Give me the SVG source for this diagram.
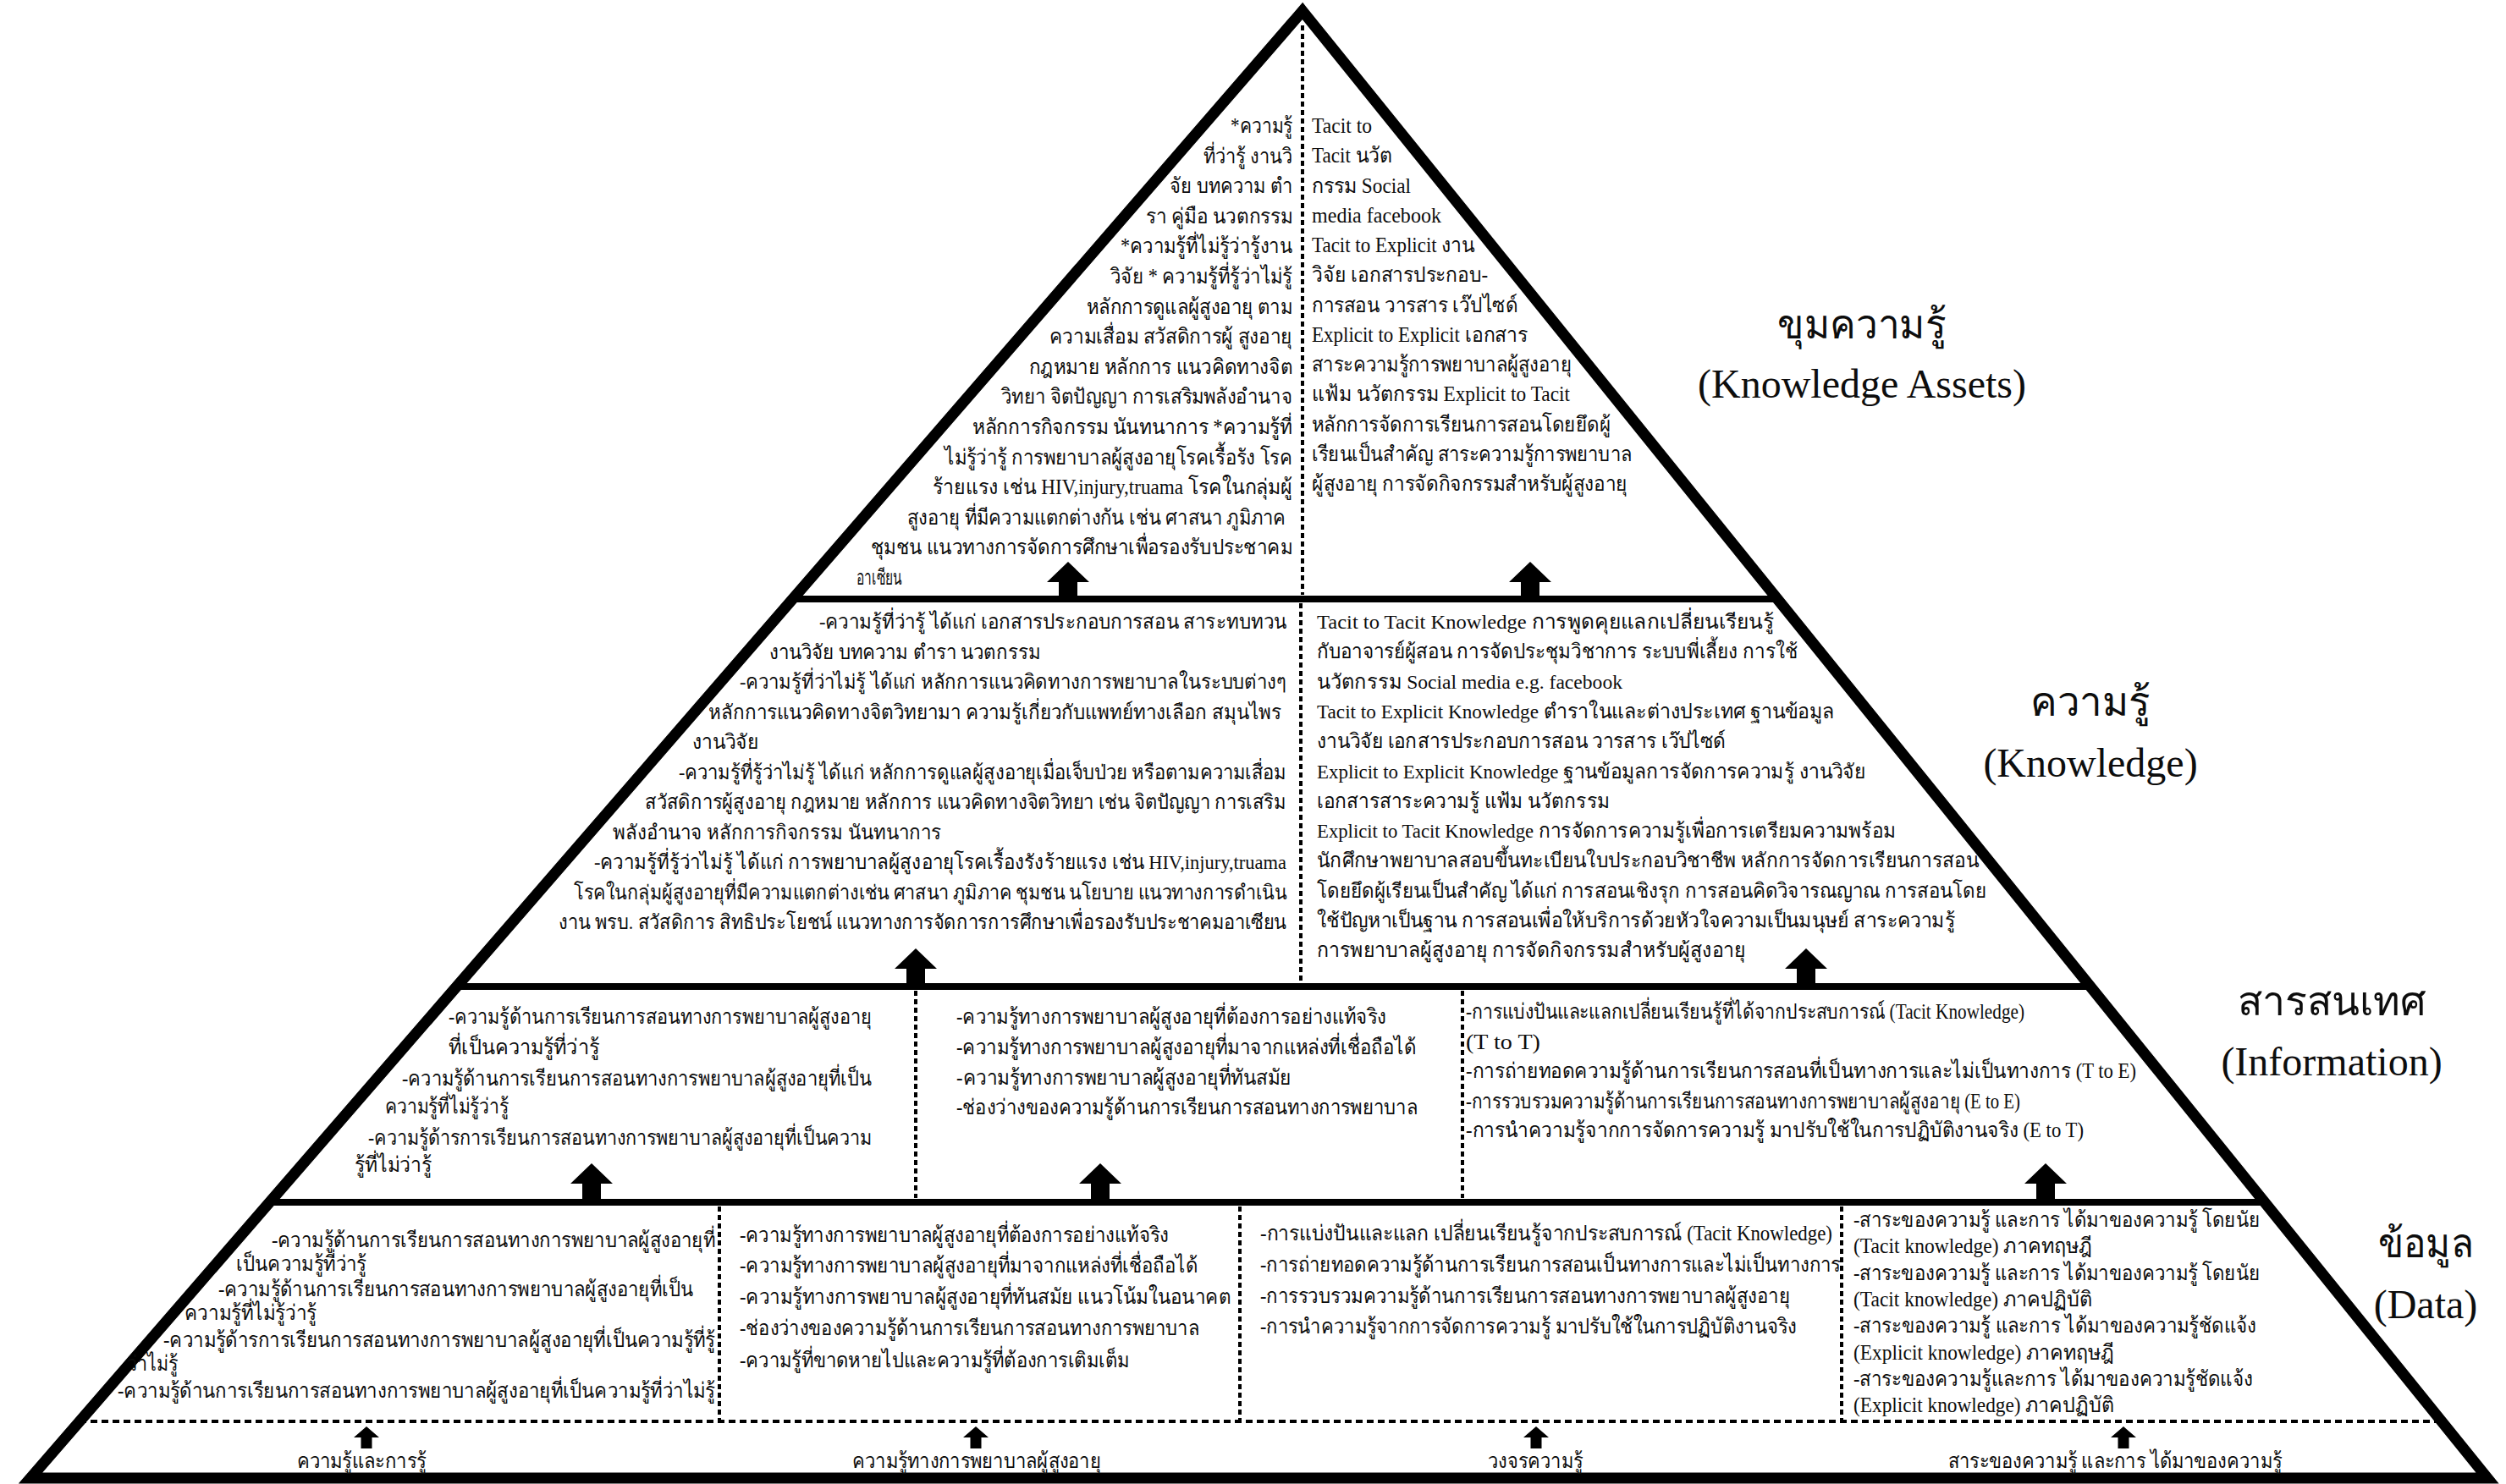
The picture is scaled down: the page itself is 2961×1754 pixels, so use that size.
<svg xmlns="http://www.w3.org/2000/svg" width="2961" height="1754" viewBox="0 0 2961 1754">
  <style>
    .t { font-family: "Liberation Serif", serif; font-size: 25px; fill: #0d0d0d; }
    .k { font-size: 24px; }
    .lab { font-family: "Liberation Serif", serif; font-size: 48px; fill: #0d0d0d; text-anchor: middle; }
    .e { text-anchor: end; }
    .m { text-anchor: middle; }
    .edge { fill: none; stroke: #000; stroke-width: 13; stroke-linejoin: miter; stroke-miterlimit: 10; }
    .hl { stroke: #000; stroke-width: 8; }
    .dot { stroke: #000; stroke-width: 4; stroke-dasharray: 6 4; fill: none; }
    .doth { stroke: #000; stroke-width: 4; stroke-dasharray: 8 5; fill: none; }
    .arrow { fill: #000; }
  </style>
  <defs>
    <!-- thick upward arrow, tip at origin -->
    <path id="bigArrow" class="arrow" d="M0 0 L25 24 L11 24 L11 44 L-11 44 L-11 24 L-25 24 Z"/>
    <!-- small upward arrow below the base band -->
    <path id="smallArrow" class="arrow" d="M0 0 L15 13 L6.5 13 L6.5 26 L-6.5 26 L-6.5 13 L-15 13 Z"/>
  </defs>

  <rect width="2961" height="1754" fill="#fff"/>

  <!-- pyramid frame and band boundaries -->
  <g id="frame">
    <polygon class="edge" points="1539,13 2939,1747 36,1747"/>
    <line class="hl" x1="936" y1="708" x2="2100" y2="708"/>
    <line class="hl" x1="539" y1="1166" x2="2470" y2="1166"/>
    <line class="hl" x1="318" y1="1421" x2="2675" y2="1421"/>
    <line class="doth" x1="94" y1="1680" x2="2884" y2="1680"/>
    <line class="dot" x1="1539" y1="30" x2="1539" y2="703"/>
    <line class="dot" x1="1537" y1="713" x2="1537" y2="1161"/>
    <line class="dot" x1="1082" y1="1171" x2="1082" y2="1416"/>
    <line class="dot" x1="1728" y1="1171" x2="1728" y2="1416"/>
    <line class="dot" x1="850" y1="1426" x2="850" y2="1680"/>
    <line class="dot" x1="1465" y1="1426" x2="1465" y2="1680"/>
    <line class="dot" x1="2176" y1="1426" x2="2176" y2="1680"/>
  </g>

  <!-- level labels -->
  <g id="label-assets">
    <text class="lab" x="2200" y="400" textLength="200" lengthAdjust="spacingAndGlyphs">ขุมความรู้</text>
    <text class="lab" x="2200" y="470">(Knowledge Assets)</text>
  </g>
  <g id="label-knowledge">
    <text class="lab" x="2470" y="846" textLength="142" lengthAdjust="spacingAndGlyphs">ความรู้</text>
    <text class="lab" x="2470" y="918">(Knowledge)</text>
  </g>
  <g id="label-information">
    <text class="lab" x="2755" y="1200" textLength="223" lengthAdjust="spacingAndGlyphs">สารสนเทศ</text>
    <text class="lab" x="2755" y="1271">(Information)</text>
  </g>
  <g id="label-data">
    <text class="lab" x="2866" y="1486" textLength="113" lengthAdjust="spacingAndGlyphs">ข้อมูล</text>
    <text class="lab" x="2866" y="1558">(Data)</text>
  </g>

  <!-- knowledge assets: left half -->
  <g id="assets-left" class="t">
    <text class="e" x="1527" y="157" textLength="73" lengthAdjust="spacingAndGlyphs">*ความรู้</text>
    <text class="e" x="1527" y="192.6" textLength="105" lengthAdjust="spacingAndGlyphs">ที่ว่ารู้ งานวิ</text>
    <text class="e" x="1527" y="228.2" textLength="145" lengthAdjust="spacingAndGlyphs">จัย บทความ ตำ</text>
    <text class="e" x="1527" y="263.8" textLength="173" lengthAdjust="spacingAndGlyphs">รา คู่มือ นวตกรรม</text>
    <text class="e" x="1527" y="299.4" textLength="203" lengthAdjust="spacingAndGlyphs">*ความรู้ที่ไม่รู้ว่ารู้งาน</text>
    <text class="e" x="1527" y="335" textLength="215" lengthAdjust="spacingAndGlyphs">วิจัย * ความรู้ที่รู้ว่าไม่รู้</text>
    <text class="e" x="1527" y="370.6" textLength="243" lengthAdjust="spacingAndGlyphs">หลักการดูแลผู้สูงอายุ ตาม</text>
    <text class="e" x="1527" y="406.2" textLength="287" lengthAdjust="spacingAndGlyphs">ความเสื่อม สวัสดิการผู้ สูงอายุ</text>
    <text class="e" x="1527" y="441.8" textLength="311" lengthAdjust="spacingAndGlyphs">กฎหมาย หลักการ แนวคิดทางจิต</text>
    <text class="e" x="1527" y="477.4" textLength="344" lengthAdjust="spacingAndGlyphs">วิทยา จิตปัญญา การเสริมพลังอำนาจ</text>
    <text class="e" x="1527" y="513" textLength="378" lengthAdjust="spacingAndGlyphs">หลักการกิจกรรม นันทนาการ *ความรู้ที่</text>
    <text class="e" x="1527" y="548.6" textLength="411" lengthAdjust="spacingAndGlyphs">ไม่รู้ว่ารู้ การพยาบาลผู้สูงอายุโรคเรื้อรัง โรค</text>
    <text class="e" x="1527" y="584.2" textLength="425" lengthAdjust="spacingAndGlyphs">ร้ายแรง เช่น HIV,injury,truama โรคในกลุ่มผู้</text>
    <text class="e" x="1519" y="619.8" textLength="447" lengthAdjust="spacingAndGlyphs">สูงอายุ ที่มีความแตกต่างกัน เช่น ศาสนา ภูมิภาค</text>
    <text class="e" x="1527" y="655.4" textLength="498" lengthAdjust="spacingAndGlyphs">ชุมชน แนวทางการจัดการศึกษาเพื่อรองรับประชาคม</text>
    <text x="1012" y="691" textLength="54" lengthAdjust="spacingAndGlyphs">อาเซียน</text>
  </g>

  <!-- knowledge assets: right half -->
  <g id="assets-right" class="t">
    <text x="1550" y="157" textLength="71" lengthAdjust="spacingAndGlyphs">Tacit to</text>
    <text x="1550" y="192.3" textLength="95" lengthAdjust="spacingAndGlyphs">Tacit นวัต</text>
    <text x="1550" y="227.5" textLength="117" lengthAdjust="spacingAndGlyphs">กรรม Social</text>
    <text x="1550" y="262.8" textLength="153" lengthAdjust="spacingAndGlyphs">media facebook</text>
    <text x="1550" y="298" textLength="193" lengthAdjust="spacingAndGlyphs">Tacit to Explicit งาน</text>
    <text x="1550" y="333.3" textLength="208" lengthAdjust="spacingAndGlyphs">วิจัย เอกสารประกอบ-</text>
    <text x="1550" y="368.5" textLength="243" lengthAdjust="spacingAndGlyphs">การสอน วารสาร เว๊ปไซด์</text>
    <text x="1550" y="403.8" textLength="255" lengthAdjust="spacingAndGlyphs">Explicit to Explicit เอกสาร</text>
    <text x="1550" y="439" textLength="307" lengthAdjust="spacingAndGlyphs">สาระความรู้การพยาบาลผู้สูงอายุ</text>
    <text x="1550" y="474.3" textLength="305" lengthAdjust="spacingAndGlyphs">แฟ้ม นวัตกรรม Explicit to Tacit</text>
    <text x="1550" y="509.5" textLength="353" lengthAdjust="spacingAndGlyphs">หลักการจัดการเรียนการสอนโดยยึดผู้</text>
    <text x="1550" y="544.8" textLength="378" lengthAdjust="spacingAndGlyphs">เรียนเป็นสำคัญ สาระความรู้การพยาบาล</text>
    <text x="1550" y="580" textLength="373" lengthAdjust="spacingAndGlyphs">ผู้สูงอายุ การจัดกิจกรรมสำหรับผู้สูงอายุ</text>
  </g>

  <!-- knowledge band: left half -->
  <g id="knowledge-left" class="t k">
    <text class="e" x="1520" y="743" textLength="552" lengthAdjust="spacingAndGlyphs">-ความรู้ที่ว่ารู้ ได้แก่ เอกสารประกอบการสอน สาระทบทวน</text>
    <text x="909" y="778.5" textLength="321" lengthAdjust="spacingAndGlyphs">งานวิจัย บทความ ตำรา นวตกรรม</text>
    <text class="e" x="1520" y="814" textLength="646" lengthAdjust="spacingAndGlyphs">-ความรู้ที่ว่าไม่รู้ ได้แก่ หลักการแนวคิดทางการพยาบาลในระบบต่างๆ</text>
    <text x="837" y="849.5" textLength="677" lengthAdjust="spacingAndGlyphs">หลักการแนวคิดทางจิตวิทยามา ความรู้เกี่ยวกับแพทย์ทางเลือก สมุนไพร</text>
    <text x="818" y="885" textLength="78" lengthAdjust="spacingAndGlyphs">งานวิจัย</text>
    <text class="e" x="1520" y="920.5" textLength="718" lengthAdjust="spacingAndGlyphs">-ความรู้ที่รู้ว่าไม่รู้ ได้แก่ หลักการดูแลผู้สูงอายุเมื่อเจ็บป่วย หรือตามความเสื่อม</text>
    <text class="e" x="1520" y="956" textLength="758" lengthAdjust="spacingAndGlyphs">สวัสดิการผู้สูงอายุ กฎหมาย หลักการ แนวคิดทางจิตวิทยา เช่น จิตปัญญา การเสริม</text>
    <text x="724" y="991.5" textLength="388" lengthAdjust="spacingAndGlyphs">พลังอำนาจ หลักการกิจกรรม นันทนาการ</text>
    <text class="e" x="1520" y="1027" textLength="818" lengthAdjust="spacingAndGlyphs">-ความรู้ที่รู้ว่าไม่รู้ ได้แก่ การพยาบาลผู้สูงอายุโรคเรื้องรังร้ายแรง เช่น HIV,injury,truama</text>
    <text class="e" x="1520" y="1062.5" textLength="842" lengthAdjust="spacingAndGlyphs">โรคในกลุ่มผู้สูงอายุที่มีความแตกต่างเช่น ศาสนา ภูมิภาค ชุมชน นโยบาย แนวทางการดำเนิน</text>
    <text class="e" x="1520" y="1098" textLength="860" lengthAdjust="spacingAndGlyphs">งาน พรบ. สวัสดิการ สิทธิประโยชน์ แนวทางการจัดการการศึกษาเพื่อรองรับประชาคมอาเซียน</text>
  </g>

  <!-- knowledge band: right half -->
  <g id="knowledge-right" class="t k">
    <text x="1556" y="743" textLength="540" lengthAdjust="spacingAndGlyphs">Tacit to Tacit Knowledge การพูดคุยแลกเปลี่ยนเรียนรู้</text>
    <text x="1556" y="778.3" textLength="568" lengthAdjust="spacingAndGlyphs">กับอาจารย์ผู้สอน การจัดประชุมวิชาการ ระบบพี่เลี้ยง การใช้</text>
    <text x="1556" y="813.6" textLength="361" lengthAdjust="spacingAndGlyphs">นวัตกรรม Social media e.g. facebook</text>
    <text x="1556" y="848.9" textLength="612" lengthAdjust="spacingAndGlyphs">Tacit to Explicit Knowledge ตำราในและต่างประเทศ ฐานข้อมูล</text>
    <text x="1556" y="884.2" textLength="483" lengthAdjust="spacingAndGlyphs">งานวิจัย เอกสารประกอบการสอน วารสาร เว๊ปไซด์</text>
    <text x="1556" y="919.5" textLength="648" lengthAdjust="spacingAndGlyphs">Explicit to Explicit Knowledge ฐานข้อมูลการจัดการความรู้ งานวิจัย</text>
    <text x="1556" y="954.8" textLength="346" lengthAdjust="spacingAndGlyphs">เอกสารสาระความรู้ แฟ้ม นวัตกรรม</text>
    <text x="1556" y="990.1" textLength="684" lengthAdjust="spacingAndGlyphs">Explicit to Tacit Knowledge การจัดการความรู้เพื่อการเตรียมความพร้อม</text>
    <text x="1556" y="1025.4" textLength="782" lengthAdjust="spacingAndGlyphs">นักศึกษาพยาบาลสอบขึ้นทะเบียนใบประกอบวิชาชีพ หลักการจัดการเรียนการสอน</text>
    <text x="1556" y="1060.7" textLength="791" lengthAdjust="spacingAndGlyphs">โดยยึดผู้เรียนเป็นสำคัญ ได้แก่ การสอนเชิงรุก การสอนคิดวิจารณญาณ การสอนโดย</text>
    <text x="1556" y="1096" textLength="754" lengthAdjust="spacingAndGlyphs">ใช้ปัญหาเป็นฐาน การสอนเพื่อให้บริการด้วยหัวใจความเป็นมนุษย์ สาระความรู้</text>
    <text x="1556" y="1131.3" textLength="506" lengthAdjust="spacingAndGlyphs">การพยาบาลผู้สูงอายุ การจัดกิจกรรมสำหรับผู้สูงอายุ</text>
  </g>

  <!-- information band -->
  <g id="information-left" class="t">
    <text x="530" y="1210" textLength="500" lengthAdjust="spacingAndGlyphs">-ความรู้ด้านการเรียนการสอนทางการพยาบาลผู้สูงอายุ</text>
    <text x="530" y="1246" textLength="178" lengthAdjust="spacingAndGlyphs">ที่เป็นความรู้ที่ว่ารู้</text>
    <text x="475" y="1283" textLength="555" lengthAdjust="spacingAndGlyphs">-ความรู้ด้านการเรียนการสอนทางการพยาบาลผู้สูงอายุที่เป็น</text>
    <text x="455" y="1316" textLength="146" lengthAdjust="spacingAndGlyphs">ความรู้ที่ไม่รู้ว่ารู้</text>
    <text x="435" y="1353" textLength="595" lengthAdjust="spacingAndGlyphs">-ความรู้ด้ารการเรียนการสอนทางการพยาบาลผู้สูงอายุที่เป็นความ</text>
    <text x="419" y="1385" textLength="91" lengthAdjust="spacingAndGlyphs">รู้ที่ไม่ว่ารู้</text>
  </g>
  <g id="information-middle" class="t">
    <text x="1130" y="1210" textLength="508" lengthAdjust="spacingAndGlyphs">-ความรู้ทางการพยาบาลผู้สูงอายุที่ต้องการอย่างแท้จริง</text>
    <text x="1130" y="1246" textLength="543" lengthAdjust="spacingAndGlyphs">-ความรู้ทางการพยาบาลผู้สูงอายุที่มาจากแหล่งที่เชื่อถือได้</text>
    <text x="1130" y="1282" textLength="396" lengthAdjust="spacingAndGlyphs">-ความรู้ทางการพยาบาลผู้สูงอายุที่ทันสมัย</text>
    <text x="1130" y="1317" textLength="545" lengthAdjust="spacingAndGlyphs">-ช่องว่างของความรู้ด้านการเรียนการสอนทางการพยาบาล</text>
  </g>
  <g id="information-right" class="t">
    <text x="1732" y="1204" textLength="660" lengthAdjust="spacingAndGlyphs">-การแบ่งปันและแลกเปลี่ยนเรียนรู้ที่ได้จากประสบการณ์ (Tacit Knowledge)</text>
    <text x="1732" y="1240" textLength="88" lengthAdjust="spacingAndGlyphs">(T to T)</text>
    <text x="1732" y="1274" textLength="792" lengthAdjust="spacingAndGlyphs">-การถ่ายทอดความรู้ด้านการเรียนการสอนที่เป็นทางการและไม่เป็นทางการ (T to E)</text>
    <text x="1732" y="1310" textLength="655" lengthAdjust="spacingAndGlyphs">-การรวบรวมความรู้ด้านการเรียนการสอนทางการพยาบาลผู้สูงอายุ (E to E)</text>
    <text x="1732" y="1344" textLength="730" lengthAdjust="spacingAndGlyphs">-การนำความรู้จากการจัดการความรู้ มาปรับใช้ในการปฏิบัติงานจริง (E to T)</text>
  </g>

  <!-- data band -->
  <g id="data-1" class="t">
    <text x="321" y="1474" textLength="524" lengthAdjust="spacingAndGlyphs">-ความรู้ด้านการเรียนการสอนทางการพยาบาลผู้สูงอายุที่</text>
    <text x="279" y="1502" textLength="154" lengthAdjust="spacingAndGlyphs">เป็นความรู้ที่ว่ารู้</text>
    <text x="258" y="1532" textLength="561" lengthAdjust="spacingAndGlyphs">-ความรู้ด้านการเรียนการสอนทางการพยาบาลผู้สูงอายุที่เป็น</text>
    <text x="218" y="1560" textLength="156" lengthAdjust="spacingAndGlyphs">ความรู้ที่ไม่รู้ว่ารู้</text>
    <text x="193" y="1592" textLength="652" lengthAdjust="spacingAndGlyphs">-ความรู้ด้ารการเรียนการสอนทางการพยาบาลผู้สูงอายุที่เป็นความรู้ที่รู้</text>
    <text x="150" y="1620" textLength="60" lengthAdjust="spacingAndGlyphs">ว่าไม่รู้</text>
    <text x="139" y="1652" textLength="706" lengthAdjust="spacingAndGlyphs">-ความรู้ด้านการเรียนการสอนทางการพยาบาลผู้สูงอายุที่เป็นความรู้ที่ว่าไม่รู้</text>
  </g>
  <g id="data-2" class="t">
    <text x="874" y="1468" textLength="507" lengthAdjust="spacingAndGlyphs">-ความรู้ทางการพยาบาลผู้สูงอายุที่ต้องการอย่างแท้จริง</text>
    <text x="874" y="1504" textLength="541" lengthAdjust="spacingAndGlyphs">-ความรู้ทางการพยาบาลผู้สูงอายุที่มาจากแหล่งที่เชื่อถือได้</text>
    <text x="874" y="1541" textLength="580" lengthAdjust="spacingAndGlyphs">-ความรู้ทางการพยาบาลผู้สูงอายุที่ทันสมัย แนวโน้มในอนาคต</text>
    <text x="874" y="1578" textLength="543" lengthAdjust="spacingAndGlyphs">-ช่องว่างของความรู้ด้านการเรียนการสอนทางการพยาบาล</text>
    <text x="874" y="1616" textLength="460" lengthAdjust="spacingAndGlyphs">-ความรู้ที่ขาดหายไปและความรู้ที่ต้องการเติมเต็ม</text>
  </g>
  <g id="data-3" class="t">
    <text x="1489" y="1466" textLength="676" lengthAdjust="spacingAndGlyphs">-การแบ่งปันและแลก เปลี่ยนเรียนรู้จากประสบการณ์ (Tacit Knowledge)</text>
    <text x="1489" y="1503" textLength="686" lengthAdjust="spacingAndGlyphs">-การถ่ายทอดความรู้ด้านการเรียนการสอนเป็นทางการและไม่เป็นทางการ</text>
    <text x="1489" y="1540" textLength="626" lengthAdjust="spacingAndGlyphs">-การรวบรวมความรู้ด้านการเรียนการสอนทางการพยาบาลผู้สูงอายุ</text>
    <text x="1489" y="1576" textLength="634" lengthAdjust="spacingAndGlyphs">-การนำความรู้จากการจัดการความรู้ มาปรับใช้ในการปฏิบัติงานจริง</text>
  </g>
  <g id="data-4" class="t">
    <text x="2190" y="1450" textLength="480" lengthAdjust="spacingAndGlyphs">-สาระของความรู้ และการ ได้มาของความรู้ โดยนัย</text>
    <text x="2190" y="1481" textLength="282" lengthAdjust="spacingAndGlyphs">(Tacit knowledge) ภาคทฤษฎี</text>
    <text x="2190" y="1513" textLength="480" lengthAdjust="spacingAndGlyphs">-สาระของความรู้ และการ ได้มาของความรู้ โดยนัย</text>
    <text x="2190" y="1544" textLength="282" lengthAdjust="spacingAndGlyphs">(Tacit knowledge) ภาคปฏิบัติ</text>
    <text x="2190" y="1575" textLength="476" lengthAdjust="spacingAndGlyphs">-สาระของความรู้ และการ ได้มาของความรู้ชัดแจ้ง</text>
    <text x="2190" y="1607" textLength="308" lengthAdjust="spacingAndGlyphs">(Explicit knowledge) ภาคทฤษฎี</text>
    <text x="2190" y="1638" textLength="472" lengthAdjust="spacingAndGlyphs">-สาระของความรู้และการ ได้มาของความรู้ชัดแจ้ง</text>
    <text x="2190" y="1669" textLength="308" lengthAdjust="spacingAndGlyphs">(Explicit knowledge) ภาคปฏิบัติ</text>
  </g>

  <!-- source labels under the base -->
  <g id="source-1" class="t"><text class="m" x="427" y="1735" textLength="153" lengthAdjust="spacingAndGlyphs">ความรู้และการรู้</text></g>
  <g id="source-2" class="t"><text class="m" x="1154" y="1735" textLength="294" lengthAdjust="spacingAndGlyphs">ความรู้ทางการพยาบาลผู้สูงอายุ</text></g>
  <g id="source-3" class="t"><text class="m" x="1814" y="1735" textLength="112" lengthAdjust="spacingAndGlyphs">วงจรความรู้</text></g>
  <g id="source-4" class="t"><text class="m" x="2499" y="1735" textLength="394" lengthAdjust="spacingAndGlyphs">สาระของความรู้ และการ ได้มาของความรู้</text></g>

  <!-- upward flow arrows -->
  <g id="connectors">
    <use href="#bigArrow" x="1262" y="664"/>
    <use href="#bigArrow" x="1808" y="664"/>
    <use href="#bigArrow" x="1082" y="1121"/>
    <use href="#bigArrow" x="2134" y="1121"/>
    <use href="#bigArrow" x="699" y="1375"/>
    <use href="#bigArrow" x="1300" y="1375"/>
    <use href="#bigArrow" x="2417" y="1375"/>
    <use href="#smallArrow" x="433" y="1686"/>
    <use href="#smallArrow" x="1153" y="1686"/>
    <use href="#smallArrow" x="1815" y="1686"/>
    <use href="#smallArrow" x="2509" y="1686"/>
  </g>
</svg>
